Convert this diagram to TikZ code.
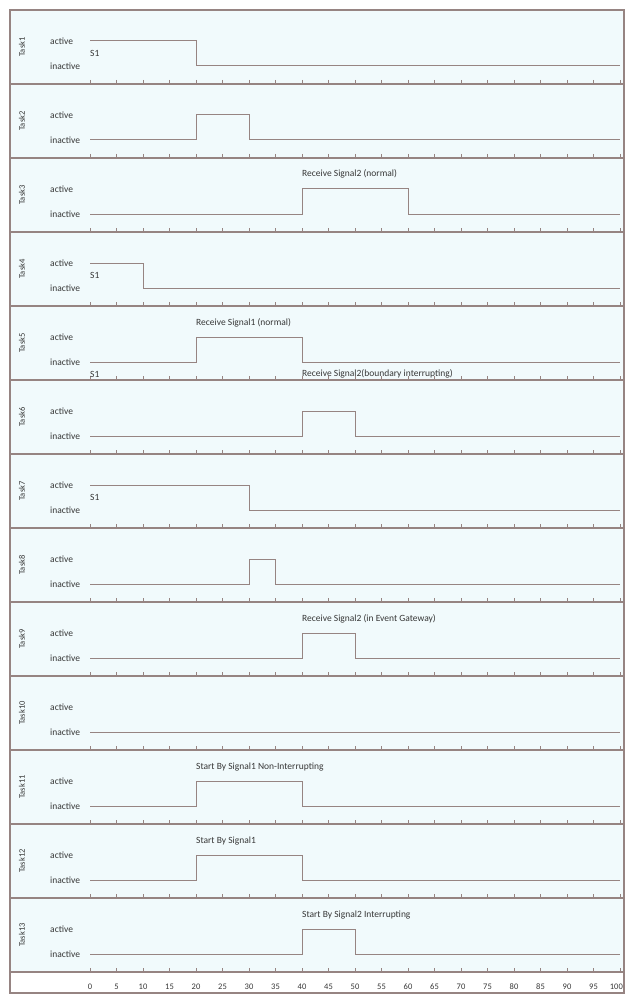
\documentclass[tikz,border=0pt]{standalone}
\usepackage{fontspec}
\setmainfont{Carlito}

\definecolor{framegray}{RGB}{150,132,130}
\definecolor{lanefill}{RGB}{241,250,252}
\definecolor{labelgray}{RGB}{55,55,55}

\tikzset{
  lanerule/.style={draw=framegray, line width=2pt},
  wave/.style={draw=framegray, line width=1pt},
  timetick/.style={draw=framegray, line width=1pt},
  statelbl/.style={anchor=west, inner sep=0pt, text=labelgray, font=\fontsize{9.5}{10}\selectfont},
  tasklbl/.style={rotate=90, inner sep=0pt, text=labelgray, font=\fontsize{8.5}{9}\selectfont},
  axislbl/.style={inner sep=0pt, text=labelgray, font=\fontsize{8.5}{9}\selectfont}
}

\begin{document}
\begin{tikzpicture}[x=1pt, y=-1pt]
  \useasboundingbox (0,0) rectangle (635,1003);
  \fill[white] (0,0) rectangle (635,1003);
  \fill[lanefill] (10,10) rectangle (624,972);
  % Lanes: task number / start and end of the active window
  \foreach \n/\a/\b in {1/0/20, 2/20/30, 3/40/60, 4/0/10, 5/20/40, 6/40/50, 7/0/30,
                        8/30/35, 9/40/50, 10/100/100, 11/20/40, 12/20/40, 13/40/50} {
    \pgfmathsetmacro{\ly}{10+74*(\n-1)}
    \node[tasklbl] (task\n) at (22,\ly+37) {Task\n};
    \node[statelbl] (act\n) at (50,\ly+31) {active};
    \node[statelbl] (inact\n) at (50,\ly+56) {inactive};
    \foreach \t in {0,5,...,100}
      \draw[timetick] ({90+5.3*\t},\ly+70) -- ++(0,4);
    \ifnum\a=0
      \draw[wave] (90,\ly+31) -- ({90+5.3*\b},\ly+31) -- ++(0,25) -- (620,\ly+56);
    \else\ifnum\a=100
      \draw[wave] (90,\ly+56) -- (620,\ly+56);
    \else
      \draw[wave] (90,\ly+56) -- ({90+5.3*\a},\ly+56) -- ++(0,-25)
        -- ({90+5.3*\b},\ly+31) -- ++(0,25) -- (620,\ly+56);
    \fi\fi
  }
  % Event labels
  \foreach \n/\t/\dy/\txt [count=\c] in {1/0/43/S1, 3/40/16/Receive Signal2 (normal), 4/0/43/S1,
      5/20/17/Receive Signal1 (normal), 5/0/68/S1, 5/40/68/Receive Signal2(boundary interrupting),
      7/0/43/S1, 9/40/17/Receive Signal2 (in Event Gateway),
      11/20/17/Start By Signal1 Non-Interrupting, 12/20/17/Start By Signal1,
      13/40/17/Start By Signal2 Interrupting} {
    \node[statelbl] (ev\c) at ({90+5.3*\t},{10+74*(\n-1)+\dy}) {\txt};
  }
  % Lane rules and frame
  \foreach \k in {1,...,13}
    \draw[lanerule] (10,{10+74*\k}) -- (624,{10+74*\k});
  \draw[lanerule] (10,10) rectangle (624,993);
  % Time axis
  \foreach \t in {0,5,...,95}
    \node[axislbl] (ax\t) at ({90+5.3*\t},987) {\t};
  \node[axislbl, anchor=east] (ax100) at (623,987) {100};
\end{tikzpicture}
\end{document}
